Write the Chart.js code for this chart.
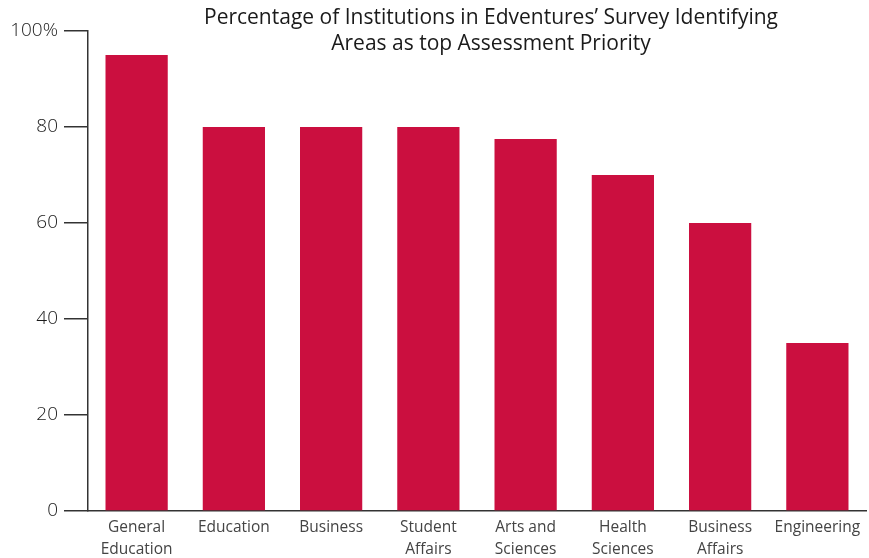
<!doctype html>
<html>
<head>
    <meta charset="utf-8">
    <title>Assessment Priority</title>
    <script src="https://cdn.jsdelivr.net/npm/chart.js@4/dist/chart.umd.min.js"></script>
    <style>
    html, body { margin: 0; padding: 0; background: #fff; }
    #wrap { width: 869px; height: 558px; }
    </style>
</head>
<body>
    <div id="wrap"><canvas id="canvas"></canvas></div>
    <script>
        var areas = [
            ['General', 'Education'],
            'Education',
            'Business',
            ['Student', 'Affairs'],
            ['Arts and', 'Sciences'],
            ['Health', 'Sciences'],
            ['Business', 'Affairs'],
            'Engineering'
        ];
        var percentages = [95, 80, 80, 80, 77.5, 70, 60, 35];
        var yTicks = [0, 20, 40, 60, 80, 100];
        var titleLines = [
            'Percentage of Institutions in Edventures\u2019 Survey Identifying',
            'Areas as top Assessment Priority'
        ];

        // title sits beside the 100% tick, so draw it by hand
        var titlePlugin = {
            id: 'twoLineTitle',
            afterDraw: function(chart) {
                var ctx = chart.ctx;
                var area = chart.chartArea;
                var cx = (area.left + area.right) / 2 + 14;
                ctx.save();
                ctx.fillStyle = '#1a1a1a';
                ctx.font = '21px "Open Sans"';
                ctx.textAlign = 'center';
                ctx.textBaseline = 'middle';
                titleLines.forEach(function(line, i) {
                    ctx.fillText(line, cx, 18 + i * 26);
                });
                ctx.restore();
            }
        };

        window.onload = function() {
            var ctx = document.getElementById('canvas').getContext('2d');
            new Chart(ctx, {
                type: 'bar',
                data: {
                    labels: areas,
                    datasets: [{
                        data: percentages,
                        backgroundColor: '#CB0F3F',
                        categoryPercentage: 1,
                        barPercentage: 0.64
                    }]
                },
                plugins: [titlePlugin],
                options: {
                    responsive: true,
                    maintainAspectRatio: false,
                    animation: false,
                    layout: { padding: { top: 31, right: 3, left: 0, bottom: 0 } },
                    plugins: {
                        legend: { display: false },
                        title: { display: false },
                        tooltip: { enabled: false }
                    },
                    scales: {
                        x: {
                            afterFit: function(scale) { scale.height = 47; },
                            grid: { display: false, drawTicks: false },
                            border: { display: true, color: '#333', width: 1.5 },
                            ticks: {
                                color: '#444',
                                font: { family: 'Open Sans', size: 15.5, lineHeight: '22px' },
                                padding: 6,
                                maxRotation: 0,
                                autoSkip: false
                            }
                        },
                        y: {
                            min: 0,
                            max: 100,
                            afterFit: function(scale) { scale.width = 88; },
                            afterBuildTicks: function(scale) {
                                scale.ticks = yTicks.map(function(v) { return { value: v }; });
                            },
                            grid: {
                                drawOnChartArea: false,
                                drawTicks: true,
                                tickLength: 24,
                                color: '#333',
                                lineWidth: 1.5
                            },
                            border: { display: true, color: '#333', width: 1.5 },
                            ticks: {
                                color: '#1a1a1a',
                                font: { family: 'Open Sans', size: 19, weight: 300 },
                                padding: 6,
                                callback: function(v) { return v === 100 ? v + '%' : v; }
                            }
                        }
                    }
                }
            });
        };
    </script>
</body>
</html>
